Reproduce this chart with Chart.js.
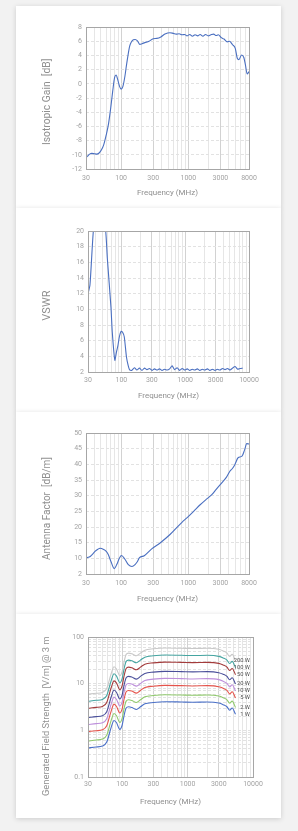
<!DOCTYPE html>
<html>
<head>
<meta charset="utf-8">
<script src="https://cdn.jsdelivr.net/npm/chart.js@4.4.0/dist/chart.umd.min.js"></script>
<style>
html, body { margin: 0; padding: 0; background: #f2f2f2; width: 298px; height: 831px; overflow: hidden; }
.card { position: absolute; left: 16px; width: 265px; background: #fff; box-shadow: 0 1px 5px rgba(0,0,0,0.16); }
.card canvas { display: block; }
</style>
</head>
<body>
<div class="card" style="top:6px;height:202px"><canvas id="gain" width="265" height="202"></canvas></div>
<div class="card" style="top:208px;height:204px"><canvas id="vswr" width="265" height="204"></canvas></div>
<div class="card" style="top:412px;height:202px"><canvas id="af" width="265" height="202"></canvas></div>
<div class="card" style="top:614px;height:204px"><canvas id="field" width="265" height="204"></canvas></div>
<script>
// ---- data ----
const gainFreq = [30, 31.5, 34, 36.5, 40, 43, 47, 51, 55, 60, 65, 70, 75, 80, 84, 90, 95, 100, 106, 114, 120, 126, 134, 142, 152, 162, 175, 190, 205, 225, 260, 300, 340, 390, 449, 533, 600, 660, 730, 800, 880, 960, 1050, 1150, 1260, 1380, 1500, 1650, 1800, 1980, 2170, 2380, 2600, 2790, 3100, 3400, 3800, 4100, 4550, 5000, 5350, 5650, 6200, 6700, 7100, 7500, 8000];
const gainDb = [-10.4, -10.2, -9.9, -9.8, -9.85, -9.9, -9.75, -9.3, -8.6, -7.2, -5.6, -3.4, -1.0, 0.9, 1.25, 0.4, -0.4, -0.75, -0.4, 1.1, 2.6, 3.9, 5.3, 5.9, 6.2, 6.25, 6.05, 5.55, 5.65, 5.8, 6.0, 6.35, 6.4, 6.6, 7.0, 7.2, 7.1, 7.0, 7.05, 6.9, 6.95, 6.75, 6.95, 6.7, 6.9, 6.75, 6.95, 6.7, 6.95, 6.75, 6.9, 7.0, 6.8, 6.9, 6.5, 6.3, 5.9, 6.0, 5.5, 5.0, 3.6, 3.4, 4.05, 3.7, 2.6, 1.4, 1.7];
const gainTicks = [30, 100, 300, 1000, 3000, 8000];

const vswrFreq = [30, 32.2, 36.4, 45, 56.8, 60.3, 68.8, 72, 79, 84, 88, 93, 99, 104, 111, 120, 128, 134, 145, 160, 175, 192, 210, 230, 252, 276, 302, 330, 362, 396, 434, 475, 520, 570, 624, 683, 748, 820, 897, 983, 1076, 1179, 1291, 1414, 1548, 1696, 1857, 2034, 2228, 2440, 2672, 2927, 3205, 3510, 3845, 4211, 4611, 5050, 5531, 6058, 6634, 7266, 7950];
const vswrVal = [12.0, 13.1, 20.0, 26.0, 20.0, 16.5, 10.2, 7.1, 3.5, 4.6, 5.3, 6.5, 7.2, 7.1, 6.5, 3.95, 2.8, 2.3, 2.2, 2.55, 2.25, 2.5, 2.2, 2.5, 2.3, 2.45, 2.2, 2.4, 2.25, 2.4, 2.2, 2.35, 2.25, 2.4, 2.8, 2.3, 2.55, 2.2, 2.45, 2.25, 2.4, 2.2, 2.35, 2.25, 2.4, 2.2, 2.35, 2.25, 2.4, 2.2, 2.35, 2.2, 2.35, 2.25, 2.45, 2.3, 2.45, 2.25, 2.5, 2.7, 2.35, 2.45, 2.5];
const vswrTicks = [30, 100, 300, 1000, 3000, 10000];

const afFreq = [30, 33.5, 37, 40.8, 45, 48.6, 55, 60, 64.3, 70.5, 79, 86, 94.5, 101, 114, 128, 145, 161, 175, 187.5, 221, 285, 380, 534, 804, 952, 1200, 1500, 1800, 2236, 2600, 3150, 3700, 4150, 4500, 4920, 5500, 6300, 6900, 7400, 8000];
const afVal = [10.2, 10.4, 11.2, 12.2, 12.9, 13.2, 12.8, 12.2, 11.2, 9.0, 6.7, 8.0, 10.1, 10.9, 9.7, 8.0, 7.4, 8.0, 9.0, 10.2, 10.85, 13.0, 14.9, 17.6, 21.5, 22.9, 25.0, 27.1, 28.6, 30.3, 32.0, 34.1, 35.9, 37.8, 38.6, 39.9, 42.1, 42.6, 44.7, 46.6, 46.5];
const afTicks = [30, 100, 300, 1000, 3000, 8000];

const fieldFreq = [30, 40, 50, 58, 68, 75, 82, 92, 100, 107, 115, 125, 140, 165, 190, 222, 300, 450, 800, 1200, 2000, 3000, 3500, 4000, 4400, 4800, 5400];
const field1W = [0.42, 0.44, 0.46, 0.56, 1.17, 1.63, 1.45, 1.05, 1.3, 2.1, 3.0, 3.2, 3.1, 2.8, 3.2, 3.7, 3.95, 4.1, 4.05, 4.0, 4.05, 3.85, 3.55, 3.2, 2.7, 3.0, 2.2];
const field2W = [0.59, 0.62, 0.65, 0.79, 1.65, 2.3, 2.05, 1.48, 1.83, 2.96, 4.23, 4.51, 4.37, 3.95, 4.51, 5.22, 5.57, 5.78, 5.71, 5.64, 5.71, 5.43, 5.0, 4.51, 3.81, 4.23, 3.1];
const field5W = [0.94, 0.98, 1.03, 1.25, 2.62, 3.64, 3.24, 2.35, 2.91, 4.7, 6.71, 7.16, 6.93, 6.26, 7.16, 8.27, 8.83, 9.17, 9.06, 8.94, 9.06, 8.61, 7.94, 7.16, 6.04, 6.71, 4.92];
const field10W = [1.33, 1.39, 1.45, 1.77, 3.7, 5.15, 4.58, 3.32, 4.11, 6.64, 9.49, 10.1, 9.8, 8.85, 10.1, 11.7, 12.5, 13.0, 12.8, 12.6, 12.8, 12.2, 11.2, 10.1, 8.54, 9.49, 6.96];
const field20W = [1.88, 1.97, 2.06, 2.5, 5.23, 7.29, 6.48, 4.7, 5.81, 9.39, 13.4, 14.3, 13.9, 12.5, 14.3, 16.5, 17.7, 18.3, 18.1, 17.9, 18.1, 17.2, 15.9, 14.3, 12.1, 13.4, 9.84];
const field50W = [2.97, 3.11, 3.25, 3.96, 8.27, 11.5, 10.3, 7.42, 9.19, 14.8, 21.2, 22.6, 21.9, 19.8, 22.6, 26.2, 27.9, 29.0, 28.6, 28.3, 28.6, 27.2, 25.1, 22.6, 19.1, 21.2, 15.6];
const field100W = [4.2, 4.4, 4.6, 5.6, 11.7, 16.3, 14.5, 10.5, 13, 21, 30, 32, 31, 28, 32, 37, 39.5, 41, 40.5, 40, 40.5, 38.5, 35.5, 32, 27, 30, 22];
const field200W = [5.94, 6.22, 6.5, 7.92, 16.5, 23.0, 20.5, 14.8, 18.4, 29.7, 42.4, 45.2, 43.8, 39.6, 45.2, 52.3, 55.9, 58.0, 57.3, 56.6, 57.3, 54.4, 50.2, 45.2, 38.2, 42.4, 31.1];
const fieldTicks = [30, 100, 300, 1000, 3000, 10000];
const fieldYTicks = [0.1, 1, 10, 100];

// ---- look ----
const FONT = "'Liberation Sans Narrow', 'Roboto', sans-serif";
const TICK = '#a3a3a3';
const TITLE = '#8f8f8f';
const BLUE = '#4a6fc0';

function decadeGrid(min, max) {
	let out = [];
	for (let e = -1; e <= 4; e++) {
		for (let m = 1; m < 10; m++) {
			let v = Number((m * Math.pow(10, e)).toPrecision(3));
			if (v >= min && v <= max) out.push(v);
		}
	}
	return out;
}

function pairs(xs, ys) {
	return xs.map((x, i) => ({x: x, y: ys[i]}));
}

const framePlugin = {
	id: 'frame',
	afterDraw(chart) {
		const a = chart.chartArea;
		const ctx = chart.ctx;
		ctx.save();
		ctx.strokeStyle = '#a6a6a6';
		ctx.lineWidth = 1;
		ctx.strokeRect(Math.round(a.left) + 0.5, Math.round(a.top) + 0.5, Math.round(a.right - a.left), Math.round(a.bottom - a.top));
		ctx.restore();
	}
};

// power labels written just right of each curve's last point
const endLabelPlugin = {
	id: 'endLabels',
	afterDatasetsDraw(chart) {
		if (!chart.options.plugins.endLabels || !chart.options.plugins.endLabels.show) return;
		const ctx = chart.ctx;
		ctx.save();
		ctx.font = "5.8px " + FONT;
		ctx.fillStyle = '#555';
		ctx.textAlign = 'right';
		ctx.textBaseline = 'middle';
		chart.data.datasets.forEach((ds, i) => {
			const pts = chart.getDatasetMeta(i).data;
			const p = pts[pts.length - 1];
			ctx.fillText(ds.label, p.x + 14.5, p.y);
		});
		ctx.restore();
	}
};

function makeChart(id, datasets, o) {
	const canvas = document.getElementById(id);
	const W = canvas.width, H = canvas.height;
	const xScale = {
		type: 'logarithmic',
		min: o.xMin,
		max: o.xMax,
		afterBuildTicks: s => { s.ticks = decadeGrid(o.xMin, o.xMax).map(v => ({value: v})); },
		afterFit: s => { s.height = H - o.area.bottom; },
		grid: {
			color: c => (c.tick && o.xLabels.includes(c.tick.value)) ? '#d2d2d2' : '#e6e6e6',
			drawTicks: false,
		},
		border: {display: false},
		ticks: {
			autoSkip: false, maxRotation: 0, minRotation: 0, padding: o.xTickPad,
			color: TICK, font: {family: FONT, size: 7},
			callback: v => o.xLabels.includes(v) ? String(v) : '',
		},
		title: {
			display: true, text: 'Frequency (MHz)', color: TITLE,
			font: {family: FONT, size: 8}, padding: {top: 0, bottom: o.xTitlePad},
		},
	};
	let yScale;
	if (o.yLog) {
		yScale = {
			type: 'logarithmic', min: o.yMin, max: o.yMax,
			afterBuildTicks: s => { s.ticks = decadeGrid(o.yMin, o.yMax).map(v => ({value: v})); },
			ticks: {autoSkip: false, callback: v => o.yLabels.includes(v) ? String(v) : ''},
		};
	} else {
		yScale = {
			type: 'linear', min: o.yMin, max: o.yMax,
			ticks: {stepSize: o.yStep, callback: o.yCallback || (v => String(v))},
		};
	}
	// trailing spaces nudge the rotated title a little further down
	const titleText = o.yTitle + ' '.repeat(o.yTitleShift || 0);
	Object.assign(yScale, {
		afterFit: s => { s.width = o.area.left; },
		grid: {color: '#e2e2e2', drawTicks: false},
		border: {display: false, dash: [3, 2]},
		title: {
			display: true, text: titleText, color: TITLE,
			font: {family: FONT, size: o.yTitleSize}, padding: {top: 25, bottom: 0},
		},
	});
	Object.assign(yScale.ticks, {padding: 4, color: TICK, font: {family: FONT, size: 7}, autoSkip: false});

	return new Chart(canvas, {
		type: 'line',
		data: {datasets: datasets},
		options: {
			responsive: false,
			animation: false,
			devicePixelRatio: 1,
			layout: {padding: {left: 0, top: o.area.top, right: W - o.area.right, bottom: 0}},
			elements: {point: {radius: 0}, line: {borderWidth: 1.1}},
			plugins: {
				legend: {display: false},
				tooltip: {enabled: false},
				endLabels: {show: !!o.endLabels},
			},
			scales: {x: xScale, y: yScale},
		},
		plugins: [framePlugin, endLabelPlugin],
	});
}

makeChart('gain', [{
	data: pairs(gainFreq, gainDb), borderColor: BLUE, cubicInterpolationMode: 'monotone',
}], {
	area: {left: 70, top: 21, right: 233, bottom: 163},
	xMin: 30, xMax: 8000, xLabels: gainTicks, xTickPad: 5, xTitlePad: 10,
	yMin: -12, yMax: 8, yStep: 2, yTitle: 'Isotropic Gain  [dB]', yTitleSize: 10.3, yTitleShift: 3,
});

makeChart('vswr', [{
	data: pairs(vswrFreq, vswrVal), borderColor: BLUE, tension: 0.2,
}], {
	area: {left: 72, top: 23, right: 233, bottom: 164},
	xMin: 30, xMax: 10000, xLabels: vswrTicks, xTickPad: 4, xTitlePad: 11,
	yMin: 2, yMax: 20, yStep: 2, yTitle: 'VSWR', yTitleSize: 11, yTitleShift: 3,
});

makeChart('af', [{
	data: pairs(afFreq, afVal), borderColor: BLUE, cubicInterpolationMode: 'monotone',
}], {
	area: {left: 70, top: 21, right: 233, bottom: 162},
	xMin: 30, xMax: 8000, xLabels: afTicks, xTickPad: 5, xTitlePad: 10,
	yMin: 5, yMax: 50, yStep: 5, yTitle: 'Antenna Factor  [dB/m]', yTitleSize: 10, yTitleShift: 4,
	yCallback: v => v === 5 ? '2' : String(v),
});

const fieldSeries = [
	['200 W', field200W, '#c9c9c9'],
	['100 W', field100W, '#45a5a1'],
	['50 W', field50W, '#a33b3b'],
	['20 W', field20W, '#4a4f9a'],
	['10 W', field10W, '#bd8fdb'],
	['5 W', field5W, '#e5534b'],
	['2 W', field2W, '#8fc96c'],
	['1 W', field1W, '#4a70c8'],
];
makeChart('field', fieldSeries.map(s => ({
	label: s[0], data: pairs(fieldFreq, s[1]), borderColor: s[2], cubicInterpolationMode: 'monotone',
})), {
	area: {left: 72, top: 23, right: 237, bottom: 163},
	xMin: 30, xMax: 10000, xLabels: fieldTicks, xTickPad: 3, xTitlePad: 11,
	yLog: true, yMin: 0.1, yMax: 100, yLabels: fieldYTicks,
	yTitle: 'Generated Field Strength  [V/m] @ 3 m', yTitleSize: 9.4, yTitleShift: 8, endLabels: true,
});
</script>
</body>
</html>
